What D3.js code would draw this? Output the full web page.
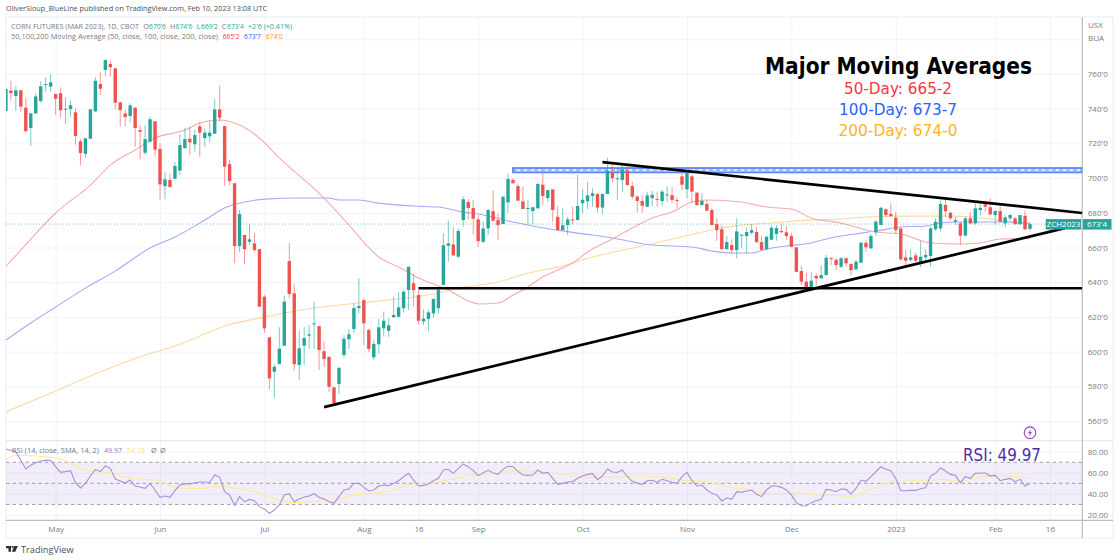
<!DOCTYPE html>
<html>
<head>
<meta charset="utf-8">
<script src="https://cdn.jsdelivr.net/npm/d3@7"></script>
<style>
  html, body { margin: 0; padding: 0; background: #fff; }
  svg { display: block; }
  text { font-family: "Open Sans", sans-serif; }
</style>
</head>
<body>
<svg id="chart" width="1120" height="560"></svg>
<script>
// candles (cents per bushel), one entry per daily bar
const opens = [738.7,750.4,747.3,750.6,740.6,728.9,737.3,744.4,753.8,752.7,748.5,748.9,739.6,739.8,737.9,721.2,714,722.7,738.5,754.2,
  762.3,765.8,763.3,743.7,737.3,735.8,740.6,727.7,714.6,721,732.7,716.8,695.4,698.9,699.6,704.3,717.2,722.7,719.5,729.8,
  723.1,724.1,725.6,739.6,730,708,697,660.8,667.2,663.3,662.4,659.1,631.6,608.2,588.4,592.8,603.4,652.2,633.6,592.3,
  603.4,609.2,615.7,614.7,600.2,597,579.4,581.3,598,607.1,613,625.1,629.7,612.4,596.7,604.2,613.4,612,619.8,620.1,
  625,635.5,639.4,632.6,617.4,618.8,622,625,638.4,661,661.8,654.7,675.8,686.2,682.8,676.2,663.3,671,680.9,675.8,
  673.5,686,698.9,695.4,686.6,682.3,681,682.6,696.2,688.5,693.5,677.7,670,672.9,676.2,675.8,685.5,686.6,689.7,690.8,
  683,690.8,703.1,699.5,698.9,704.3,695.4,689.3,686.8,683.5,688.5,688,686.8,690,690.2,687.4,701,693.5,701,691.6,
  684.5,685.1,681.6,673.5,670.5,659,661.4,658.5,667,666.6,668.5,668.9,663.1,659,664.5,667.8,669.5,668.8,666.6,660.1,
  646.4,640.3,636.5,643.6,642.2,644.1,653.9,652.9,648.9,653.8,650.5,647.4,651.2,662.7,659.5,668.7,673,682,679.3,677.2,
  671,654.3,652.8,655.5,650.9,654.3,655.1,670.5,671,684.5,680,674.9,673.9,666.8,676.8,673.9,681.6,684.9,683.2,678.7,
  681,673.9,676.8,676.8,673.4,678.3,670.75];
const closes = [751.4,749,750.6,741.2,727.1,737.3,747.1,752.9,754.2,755.2,745.7,739.1,740,742,724.3,714.5,722.9,739.6,756.1,751.5,
  768,763.9,743.5,739.2,735.2,741.9,728.9,726.7,722.5,733.9,716.4,696.4,699.3,694.9,707,719,722.5,720.6,724.8,726.2,
  726.2,726.2,739.6,734.8,706.6,698.3,660.8,679.3,659,664.7,658.5,625.9,613.4,584.6,591.3,601.7,628.8,633.2,592.7,601.9,
  607.8,610,616.3,600.9,595.7,579.7,570.2,590.7,607.4,610,625.1,626.3,616.3,601.5,604.4,614,617.8,615.1,621.1,625.5,
  634.5,648.9,635.5,617.8,619,622.6,630.3,635.5,661.3,662.4,655.5,669.5,687.8,682.8,676.6,663.6,671,681.6,675.4,672.9,
  689.3,699.5,697,687,682.2,682.8,683.2,696.6,689.7,693.1,681.6,670,672.8,676.2,676,683.9,687.5,690,691.2,683,
  690.8,704.2,699.9,699.9,705,696,689.3,686.8,684.1,690,690.4,687.5,692.2,690.6,687.4,687,696.2,702.8,692.2,684.5,
  686.8,681.2,672.9,670,659,663.1,658.5,669.3,667.4,668.9,670,663.1,658.7,666.2,671.4,671.2,668.8,666.6,660.4,646,
  640.3,636.5,640.9,642.2,644.1,654.1,653.4,649.9,653.8,650.9,647,651.8,662.7,660.1,666.6,674.9,682.9,678.7,678.1,670,
  653.2,652.4,654.3,652.4,654.7,655.7,671,674.9,685.1,680.9,676.8,675.8,666.8,676.8,673.9,682.6,682.8,683.5,679.1,681,
  674.9,677.4,678.7,673.5,678.7,670.5,673.5];
const highs = [751.6,756.1,753.1,750.8,746.3,737.5,749,755.8,758.1,760,748.5,752.3,746.7,744.8,740.2,722.5,723.1,739.8,758.1,761,
  768.5,768,763.5,743.9,739.2,743.1,740.6,730.6,730.6,735.4,732.9,720.1,703.7,702.4,709.4,725.2,729,729.6,727.7,732.5,
  728.3,733.1,745.4,753.1,730,710.4,697.2,681.6,667.2,673.5,668.2,659.1,632.6,608.6,592.8,614,632.2,662.6,638.8,612,
  614.3,615.3,628.7,614.7,605.7,597,579.6,590.7,609.5,613,627.8,642.2,630.7,613.4,606.7,618.8,623,619.2,631.6,634.5,
  635.5,648.9,644.7,635.5,624.3,624,630.7,637.4,668.2,675.4,671.6,671.1,689.3,687.8,687.4,678.7,674.9,682,692.7,679.7,
  689.3,702.8,700,697,695,687.4,683.2,697.3,702.8,693.1,693.5,683.5,682.6,677.7,683.5,701.8,693.5,697.9,694.1,691.6,
  691.2,711.7,707.5,705.6,707.5,706.6,697.9,690.2,690.2,692.2,692.7,692.2,693.1,695.4,695,688.9,703.7,703.7,701.8,691.6,
  691.2,687.4,682.6,676.8,672.9,666.6,664.7,676.8,667.4,671.6,673.5,671.6,666.6,666.6,672.4,672.9,673.9,672.4,668.5,660.1,
  649.3,645.4,646,645.1,649.9,655.7,654.5,653.8,654.5,654.3,650.9,652.8,663.3,664.3,667.8,675.8,683.5,682.6,685.5,680.6,
  671,658.5,659.1,657,663.7,659,672,676.8,687,688.3,680.6,677.7,674.9,677.7,680.6,685.8,685.5,687,688.3,681.6,
  685.5,678.7,679.3,677.4,678.7,681.2,674.75];
const lows = [738.3,744.6,738.8,738.3,726.4,718.5,736.9,743.4,749.8,749.8,736.4,734.8,731.2,735.4,719.3,707.5,711.7,722.5,738.1,747.9,
  758.8,758.4,739.6,730,729.6,731.9,718.1,710.8,713.3,720.4,712.3,687.4,687.8,694.4,699.3,701.8,717.2,713.3,715.2,712.3,
  718.1,720.4,725.6,732.5,695.6,695.6,651,657.2,650.3,661.4,657.6,625.9,610.9,578.2,573.4,592.8,603.4,630.7,589,583.6,
  592.3,601.5,601.5,589.4,591.3,576.5,569.8,575.4,596.5,601.5,610.5,622.1,603.8,599.9,595.2,598.6,608.6,608.6,619.8,619.5,
  622.6,624,625.9,615.9,615.3,611.8,619.2,621.7,638.4,651.8,655.1,653.8,672,676.2,667.4,660.4,662.4,667.2,675.4,664.3,
  673.5,680,697,687,682.2,673,673.5,682,684.5,686.4,674.9,670,670,667.2,673.5,675.8,679.7,682,683.5,680.1,
  679.1,690.8,697.3,687.4,691.8,695.6,687.8,680.3,680,683.2,683.9,683.5,683.9,686.4,685.5,682.6,693.1,688.3,685.5,683.9,
  683.9,681,672.9,663.9,659,659,656.2,653.8,659.5,656.6,667.4,662.7,658.1,658.5,664.3,663.9,668.5,664.3,660.1,646,
  638.4,636.1,635.9,638,642.2,644.1,649.9,647,648.2,648.9,644.1,647,650.9,657.6,659.1,666.6,673,677.7,677.7,668.2,
  652.4,648.6,651.8,651.2,648.6,651.2,648.9,669.7,669.1,677.7,675.8,673,661.4,666.6,673.5,673.3,678.7,680.6,678.7,673.5,
  674.9,671.6,675.8,673,673,670,669.25];

// moving averages, bar index and value at the places
const ma50Bars = [0,3,10,17,21,26,30,36,39,43,46,51,55,64,69,75,79,83,89,93,95,99,102,105,107,111,114,117,122,126,130,134,138,141,148,153,158,162,168,171,175,180,186,192,196,200,206];
const ma50 = [649.3,658.5,679.9,696,707.5,716.2,723.1,727.7,731.7,733.5,731.7,723.1,711.6,688.5,672.9,654.5,648.7,642.4,635.5,629.2,627.4,628,632.6,637.2,641.3,647,651.1,657.4,664.9,671.2,677,680.4,686.2,687.4,686.2,683.3,682.2,677,674.1,671.8,668.9,667.8,662.6,662,662.6,664.9,665.2];
const ma100Bars = [0,5,10,16,22,29,34,40,44,48,52,59,65,67,71,75,82,87,92,95,102,107,111,115,122,130,138,142,146,150,153,157,162,165,172,175,180,185,188,191,196,201,206];
const ma100 = [606.7,616.5,625.7,636.6,646.4,659.7,666,675.8,682.8,686.2,687.9,688.5,688.5,687.4,687.4,685.6,683.9,683.3,680.4,679.3,674.7,671.8,670,668.3,665.5,661.4,660.3,658,656.8,656.8,659.1,660.9,662.6,664.9,668.3,669.5,671.8,672.4,674.1,674.7,674.7,674.7,673.7];
const ma200Bars = [0,10,16,22,28,34,40,44,51,55,62,71,82,87,91,99,105,111,118,127,135,143,148,154,161,168,173,180,187,191,196,200,206];
const ma200 = [565.2,577.3,584.8,591.7,598,603.2,610.1,614.7,619.3,621.7,625.1,628,631.5,633.8,636.6,640.1,645.3,648.7,654.5,660.3,665.5,670.7,672.9,674.1,675.8,676.4,677.6,678.1,678.1,678.1,677,675.8,674];

// RSI(14), one value per bar
const rsi = [82.3,81.3,79.7,72.1,63.6,67.1,69.6,71.2,71.8,71.8,65.8,60.4,61.1,62,50.6,45.6,50,57,63.3,61.1,
  66.5,64.2,54.1,52.2,50.3,53.2,47.5,46.5,45.3,50,43.7,36.7,38,36.7,43.1,48.4,49.7,49.4,50.6,51.3,
  51.3,51,57.9,55.7,42.1,39,29.2,37.4,32.6,34.8,33.6,27.9,25.7,21.6,24.7,29.5,39,40.2,32.6,35.2,
  37.1,38,40.2,36.7,35.2,32.6,31.1,37.4,43.7,44.7,50,50,46.2,42.8,43.7,47.5,48.4,47.8,50,52.5,
  56.3,59.5,53.2,47.5,48.1,49.4,52.5,54.8,62.7,63.3,59.5,64.2,68.3,65.8,62,57.3,60.1,62.3,60.1,58.5,
  63.3,66.1,65.8,61.4,57.9,57.6,57.9,62.7,59.5,60.4,54.8,49.1,50,51.3,51.6,54.8,57,58.5,59.2,53.5,
  57,63.6,60.8,60.4,62.7,56.3,51.9,50,49.1,52.5,52.9,51,53.8,52.5,51,50,56.3,60.4,52.5,47.5,
  48.4,43.7,40.5,39,33.3,36.1,34.8,42.1,41.5,42.8,43.7,39.6,37.4,43.7,47.5,47.5,46.2,43.7,39,31.7,
  28.8,28.5,31.7,33.5,34.8,44.3,43.7,42.1,44.6,44.3,39.9,45.2,53.1,51.9,56.3,61,65.8,63.3,62,54.7,
  43,43,43.3,43.3,44.9,45.9,56.9,59.5,64.8,61.7,58.5,57.6,50.6,56.3,54.7,59.5,59.8,59.8,56.9,57.6,
  52.5,53.8,54.7,51.6,53.8,47.5,49.97];
const rsiMaBars = [0,2,6,9,11,13,16,19,22,24,27,30,32,34,37,40,42,44,47,50,52,55,58,60,63,66,69,73,77,79,82,85,88,91,93,96,99,101,104,107,109,113,116,119,123,126,130,133,136,140,142,146,150,152,156,160,163,166,170,172,175,178,181,185,188,192,195,199,203,206];
const rsiMa = [72.8,76.6,75.9,74.7,72.8,69.6,62.7,61.1,58.5,55.7,54.1,53.2,50,45.9,45,45.3,47.2,46.9,44.6,42.1,38.3,34.2,31.7,32.3,33.3,33.3,38,40.5,42.1,45.9,49.4,49.4,52.5,54.8,57.9,58.5,60.1,62,62,61.1,60.1,57.9,55.7,55.7,55.7,57,56.7,55.4,53.2,51.9,50.6,45.9,43.7,40.5,40.5,41.1,38.9,38.6,37.7,40.5,46.2,51.2,52.2,52.5,53.8,52.2,54.7,57.6,56.3,54.78];

// axes
const priceTicks = [560,580,600,620,640,660,680,700,720,740,760];
const priceGrid = [540,560,580,600,620,640,660,680,700,720,740,760,780];
const rsiTicks = [20,40,60,80];
const timeBars = [10,31,52,72,83,95,116,137,158,179,199,210];
const timeLabels = ["May","Jun","Jul","Aug","16","Sep","Oct","Nov","Dec","2023","Feb","16"];

// drawn objects
const supportBars = [64,213], supportPrices = [568,671.2];
const resistBars = [120,216.5], resistPrices = [709.2,679.9];
const levelBars = [83,216.5], levelPrice = 636.5;
const zoneBars = [102,216.5], zonePrices = [705.8,704.6,703.3];
const lastClose = 673.5;

const up = "#26a69a", down = "#ef5350";
const paneL = 6, paneR = 1082.3, outerR = 1113, mainB = 440.7, rsiB = 520.3, outerB = 538, paneT = 17;

const svg = d3.select("#chart");
const x = d3.scaleLinear().domain([0, 206]).range([5.9, 1030]);
const y = d3.scaleLinear().domain([560, 760]).range([421, 74]);
const yRsi = d3.scaleLinear().domain([20, 80]).range([515, 451.7]);

const clip = svg.append("defs");
clip.append("clipPath").attr("id", "mainClip").append("rect")
  .attr("x", paneL).attr("y", paneT).attr("width", paneR - paneL).attr("height", mainB - paneT);
clip.append("clipPath").attr("id", "rsiClip").append("rect")
  .attr("x", paneL).attr("y", mainB).attr("width", paneR - paneL).attr("height", rsiB - mainB);

// grid, done with the axes themselves
const gridColor = "#f0f3fa";
const hGrid = svg.append("g").attr("transform", `translate(${paneL},0)`)
  .call(d3.axisRight(y).tickValues(priceGrid.filter(p => y(p) < mainB && y(p) > paneT)).tickSize(paneR - paneL).tickFormat(""));
hGrid.select(".domain").remove();
hGrid.selectAll("line").attr("stroke", gridColor);

const rGrid = svg.append("g").attr("transform", `translate(${paneL},0)`)
  .call(d3.axisRight(yRsi).tickValues(rsiTicks).tickSize(paneR - paneL).tickFormat(""));
rGrid.select(".domain").remove();
rGrid.selectAll("line").attr("stroke", gridColor);

const vGrid = svg.append("g").attr("transform", `translate(0,${paneT})`)
  .call(d3.axisBottom(x).tickValues(timeBars).tickSize(rsiB - paneT).tickFormat(""));
vGrid.select(".domain").remove();
vGrid.selectAll("line").attr("stroke", gridColor);

// frame
const frameColor = "#e6e8ef";
svg.append("path").attr("fill", "none").attr("stroke", gridColor).attr("stroke-width", 1.5)
  .attr("d", `M${paneL},${outerB}V${paneT}H${outerR}V${outerB}H${paneL}`);
svg.append("line").attr("x1", paneL).attr("x2", outerR).attr("y1", mainB).attr("y2", mainB).attr("stroke", frameColor).attr("stroke-width", 1.2);
svg.append("line").attr("x1", paneL).attr("x2", outerR).attr("y1", rsiB).attr("y2", rsiB).attr("stroke", "#b9bcc5").attr("stroke-width", 1.2);
svg.append("line").attr("x1", paneR).attr("x2", paneR).attr("y1", paneT).attr("y2", outerB).attr("stroke", "#b9bcc5").attr("stroke-width", 1.2);

// main pane
const main = svg.append("g").attr("clip-path", "url(#mainClip)");

const maLine = (bars) => d3.line().x((d, i) => x(bars[i])).y(d => y(d)).curve(d3.curveMonotoneX);
main.append("path").datum(ma200).attr("d", maLine(ma200Bars)).attr("fill", "none").attr("stroke", "#fdd9a0").attr("stroke-width", 1.1);
main.append("path").datum(ma100).attr("d", maLine(ma100Bars)).attr("fill", "none").attr("stroke", "#a6a8f5").attr("stroke-width", 1.1);
main.append("path").datum(ma50).attr("d", maLine(ma50Bars)).attr("fill", "none").attr("stroke", "#f7abab").attr("stroke-width", 1.1);

// zone at the 704 level
main.append("rect").attr("x", x(zoneBars[0])).attr("width", x(zoneBars[1]) - x(zoneBars[0]))
  .attr("y", y(zonePrices[0])).attr("height", y(zonePrices[2]) - y(zonePrices[0]))
  .attr("fill", "#e3eafd").attr("stroke", "#5c86f5").attr("stroke-width", 1.8);
main.append("line").attr("x1", x(zoneBars[0])).attr("x2", x(zoneBars[1])).attr("y1", y(zonePrices[1])).attr("y2", y(zonePrices[1]))
  .attr("stroke", "#5c86f5").attr("stroke-width", 0.9).attr("stroke-dasharray", "4 3");

// last price dotted line
main.append("line").attr("x1", paneL).attr("x2", paneR).attr("y1", y(lastClose)).attr("y2", y(lastClose))
  .attr("stroke", up).attr("stroke-opacity", 0.7).attr("stroke-width", 0.9).attr("stroke-dasharray", "1 2");

// candles
const bars = d3.range(opens.length);
const candle = main.append("g").selectAll("g").data(bars).join("g");
candle.append("line")
  .attr("x1", i => x(i)).attr("x2", i => x(i))
  .attr("y1", i => y(highs[i])).attr("y2", i => y(lows[i]))
  .attr("stroke", i => closes[i] >= opens[i] ? up : down)
  .attr("stroke-opacity", 0.6).attr("stroke-width", 1);
candle.append("rect")
  .attr("x", i => x(i) - 1.7).attr("width", 3.4)
  .attr("y", i => y(Math.max(opens[i], closes[i])))
  .attr("height", i => Math.max(1, Math.abs(y(opens[i]) - y(closes[i]))))
  .attr("fill", i => closes[i] >= opens[i] ? up : down);

// trend lines
const black = (x1, p1, x2, p2) => main.append("line")
  .attr("x1", x(x1)).attr("y1", y(p1)).attr("x2", x(x2)).attr("y2", y(p2))
  .attr("stroke", "#000").attr("stroke-width", 2.7);
black(levelBars[0], levelPrice, levelBars[1], levelPrice);
black(supportBars[0], supportPrices[0], supportBars[1], supportPrices[1]);
black(resistBars[0], resistPrices[0], resistBars[1], resistPrices[1]);

// price axis
const axisText = "#787b86";
const fmtPrice = p => p + "'0";
const pAxis = svg.append("g").attr("transform", `translate(${paneR},0)`)
  .call(d3.axisRight(y).tickValues(priceTicks).tickSize(0).tickPadding(5.5).tickFormat(fmtPrice));
pAxis.select(".domain").remove();
pAxis.selectAll("text").attr("fill", axisText).style("font-size", "8px");

const rAxis = svg.append("g").attr("transform", `translate(${paneR},0)`)
  .call(d3.axisRight(yRsi).tickValues(rsiTicks).tickSize(0).tickPadding(5.5).tickFormat(d3.format(".2f")));
rAxis.select(".domain").remove();
rAxis.selectAll("text").attr("fill", axisText).style("font-size", "8px");

const label = (t, px, py, size, fill, extra) => {
  const el = svg.append("text").attr("x", px).attr("y", py).attr("fill", fill).style("font-size", size + "px").text(t);
  if (extra) extra(el);
  return el;
};
label("USX", 1088, 28, 8, axisText);
label("BUA", 1088, 41, 8, axisText);

// last price tags
svg.append("rect").attr("x", 1045.7).attr("y", y(lastClose) - 5).attr("width", 35.5).attr("height", 10.5).attr("fill", up);
label("ZCH2023", 1063.5, y(lastClose) + 3, 8, "#fff", e => e.attr("text-anchor", "middle"));
svg.append("rect").attr("x", 1083).attr("y", y(lastClose) - 5).attr("width", 28.5).attr("height", 10.5).attr("fill", up);
label("673'4", 1097, y(lastClose) + 3, 8, "#fff", e => e.attr("text-anchor", "middle"));

// RSI pane
svg.append("rect").attr("x", paneL).attr("width", paneR - paneL)
  .attr("y", yRsi(70)).attr("height", yRsi(30) - yRsi(70))
  .attr("fill", "#7e57c2").attr("fill-opacity", 0.1);
[70, 50, 30].forEach(v => svg.append("line")
  .attr("x1", paneL).attr("x2", paneR).attr("y1", yRsi(v)).attr("y2", yRsi(v))
  .attr("stroke", "#9598a1").attr("stroke-width", 0.9).attr("stroke-dasharray", "3.5 3"));

const rsiPane = svg.append("g").attr("clip-path", "url(#rsiClip)");
rsiPane.append("path").datum(rsiMa)
  .attr("d", d3.line().x((d, i) => x(rsiMaBars[i])).y(d => yRsi(d)).curve(d3.curveMonotoneX))
  .attr("fill", "none").attr("stroke", "#fdeb92").attr("stroke-width", 1.1);
rsiPane.append("path").datum(rsi)
  .attr("d", d3.line().x((d, i) => x(i)).y(d => yRsi(d)))
  .attr("fill", "none").attr("stroke", "#a88fdc").attr("stroke-width", 1.1);

// time axis
const tAxis = svg.append("g").attr("transform", `translate(0,${rsiB})`)
  .call(d3.axisBottom(x).tickValues(timeBars).tickSize(0).tickPadding(6).tickFormat((d, i) => timeLabels[i]));
tAxis.select(".domain").remove();
tAxis.selectAll("text").attr("fill", axisText).style("font-size", "8px");

// header and legends, fitted to the widths in the reference
const fit = (w) => (e) => e.attr("textLength", w).attr("lengthAdjust", "spacingAndGlyphs");
const legendSize = 7.4;
label("OliverSloup_BlueLine published on TradingView.com, Feb 10, 2023 13:08 UTC", 6, 11, 7.7, "#4a4e59", fit(261));
label("CORN FUTURES (MAR 2023), 1D, CBOT", 11, 29, legendSize, "#787b86", fit(128));
label("O", 143.3, 29, legendSize, "#787b86");
label("670'6", 149, 29, legendSize, up, fit(17));
label("H", 170, 29, legendSize, "#787b86");
label("674'6", 175.5, 29, legendSize, up, fit(17));
label("L", 196.7, 29, legendSize, "#787b86");
label("669'2", 201, 29, legendSize, up, fit(17));
label("C", 221.7, 29, legendSize, "#787b86");
label("673'4", 227, 29, legendSize, up, fit(17));
label("+2'6 (+0.41%)", 248, 29, legendSize, up, fit(44));
label("50,100,200 Moving Average (50, close, 100, close, 200, close)", 11, 39, legendSize, "#787b86", fit(207));
label("665'2", 222.7, 39, legendSize, "#f23645", fit(17));
label("673'7", 244, 39, legendSize, "#2962ff", fit(17));
label("674'0", 265.7, 39, legendSize, "#ff9800", fit(17));

label("RSI (14, close, SMA, 14, 2)", 12, 453, legendSize, "#787b86", fit(87));
label("49.97", 104, 453, legendSize, "#9575cd", fit(18));
label("54.78", 127, 453, legendSize, "#fde968", fit(18));
label("Ø", 151, 453, legendSize, "#787b86");
label("Ø", 160, 453, legendSize, "#787b86");

// big text on the chart
const note = (t, cx, py, size, fill, weight, w) => svg.append("text")
  .attr("x", cx).attr("y", py).attr("text-anchor", "middle").attr("fill", fill)
  .attr("textLength", w).attr("lengthAdjust", "spacingAndGlyphs")
  .style("font-family", '"DejaVu Sans"').style("font-size", size + "px").style("font-weight", weight).text(t);
note("Major Moving Averages", 898.5, 73.5, 23, "#000", "bold", 267);
note("50-Day: 665-2", 898, 94, 16, "#f23645", "normal", 108);
note("100-Day: 673-7", 898, 115, 16, "#2962ff", "normal", 118);
note("200-Day: 674-0", 898, 135.5, 16, "#ffb327", "normal", 119);
note("RSI: 49.97", 1002, 461, 17.5, "#512da8", "normal", 78);

// lightning icon
const icon = svg.append("g").attr("transform", "translate(1030,432.7)");
icon.append("circle").attr("r", 5.8).attr("fill", "#fff").attr("stroke", "#9c3fc4").attr("stroke-width", 1.1);
icon.append("path").attr("d", "M1,-3.5L-2,0.6H-0.2L-1,3.5L2,-0.6H0.2Z").attr("fill", "#9c3fc4");

// TradingView mark
const logo = svg.append("g").attr("transform", "translate(6,546)").attr("fill", "#2a2e39");
logo.append("path").attr("d", "M0,0H5V5.8H2.5V2.2H0Z");
logo.append("circle").attr("cx", 6.6).attr("cy", 1.1).attr("r", 1.1);
logo.append("path").attr("d", "M8.3,0H11.8L9.3,5.8H5.9Z");
label("TradingView", 21, 552.5, 9.2, "#4a4e59");
</script>
</body>
</html>
